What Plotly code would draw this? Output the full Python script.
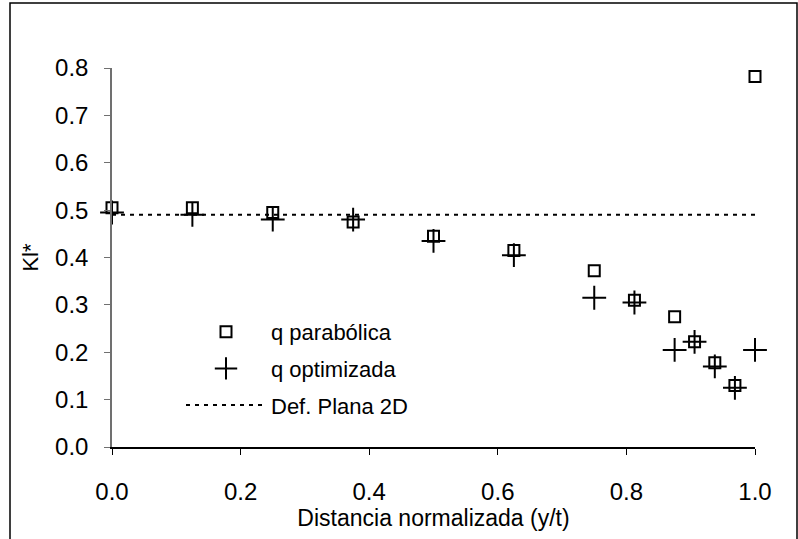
import plotly.graph_objects as go

# Normalised distance along the crack front (y/t)
x_pos = [0.0, 0.125, 0.25, 0.375, 0.5, 0.625, 0.75, 0.8125, 0.875, 0.906, 0.9375, 0.96875, 1.0]
# Normalised stress intensity factor KI*
ki_parabolica = [0.505, 0.505, 0.495, 0.475, 0.445, 0.415, 0.372, 0.31, 0.275, 0.222, 0.178, 0.13, 0.782]
ki_optimizada = [0.495, 0.49, 0.48, 0.48, 0.435, 0.405, 0.315, 0.305, 0.205, 0.222, 0.17, 0.125, 0.205]
# 2D plane strain reference value
ki_plana_2d = 0.49
plana_x = [0.0, 1.0]

x_ticks = [0.0, 0.2, 0.4, 0.6, 0.8, 1.0]
y_ticks = [0.0, 0.1, 0.2, 0.3, 0.4, 0.5, 0.6, 0.7, 0.8]

FONT = "Liberation Sans, Arial, sans-serif"

fig = go.Figure()
fig.add_trace(go.Scatter(
    x=x_pos, y=ki_parabolica, mode="markers", name="q parabólica",
    legendgroup="a", cliponaxis=False,
    marker=dict(symbol="square-open", size=11, color="black",
                line=dict(width=2, color="black")),
))
fig.add_trace(go.Scatter(
    x=x_pos, y=ki_optimizada, mode="markers", name="q optimizada",
    legendgroup="b", cliponaxis=False,
    marker=dict(symbol="cross-thin", size=17, color="black",
                line=dict(width=2, color="black")),
))
fig.add_trace(go.Scatter(
    x=plana_x, y=[ki_plana_2d] * len(plana_x), mode="lines", name="Def. Plana 2D",
    legendgroup="c",
    line=dict(color="black", width=2, dash="4px,5px"),
))

L, T, R, B = 112, 68, 43, 92
W, H = 798, 539
pw, ph = W - L - R, H - T - B

def px(xp):
    return (xp - L) / pw

def py(yp):
    return (H - B - yp) / ph

# Outer chart frame
fig.add_shape(type="rect", xref="paper", yref="paper",
              x0=px(10), x1=px(797), y0=py(560), y1=py(3),
              line=dict(color="black", width=1.5), fillcolor="rgba(0,0,0,0)",
              layer="below")

fig.update_layout(
    width=W, height=H,
    margin=dict(l=L, r=R, t=T, b=B),
    paper_bgcolor="white", plot_bgcolor="white",
    font=dict(family=FONT, color="black"),
    showlegend=True,
    legend=dict(
        x=px(181), y=py(311), xanchor="left", yanchor="top",
        bgcolor="rgba(0,0,0,0)", font=dict(size=22, family=FONT),
        tracegroupgap=5, itemsizing="trace", itemwidth=80,
    ),
    xaxis=dict(
        range=[0, 1], tickvals=x_ticks, ticktext=[f"{v:.1f}" for v in x_ticks],
        showgrid=False, zeroline=False, showline=True, linecolor="black", linewidth=1.5,
        ticks="outside", ticklen=6, tickcolor="black", tickwidth=1,
        tickfont=dict(size=24, family=FONT), ticklabelstandoff=16,
        title=dict(text="Distancia normalizada (y/t)", font=dict(size=23, family=FONT), standoff=3),
    ),
    yaxis=dict(
        range=[0, 0.8], tickvals=y_ticks, ticktext=[f"{v:.1f}" for v in y_ticks],
        showgrid=False, zeroline=False, showline=True, linecolor="#707070", linewidth=1.5,
        ticks="outside", ticklen=6, tickcolor="#707070", tickwidth=1,
        tickfont=dict(size=24, family=FONT), ticklabelstandoff=11,
        title=dict(text="Kl*", font=dict(size=22, family=FONT), standoff=10),
    ),
)

fig.write_html("out.html")
